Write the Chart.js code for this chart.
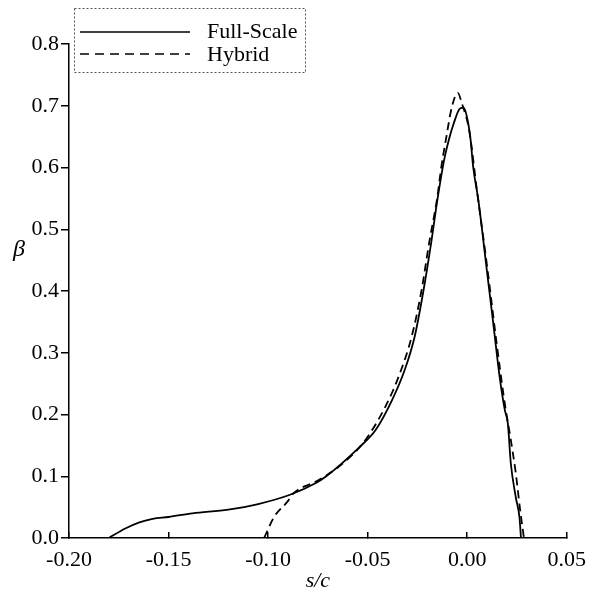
<!DOCTYPE html>
<html>
<head>
<meta charset="utf-8">
<script src="https://cdn.jsdelivr.net/npm/chart.js@4/dist/chart.umd.min.js"></script>
<style>
  html, body { margin: 0; padding: 0; background: #fff; }
  #wrap { width: 601px; height: 594px; }
</style>
</head>
<body>
<div id="wrap"><canvas id="beta-chart" width="601" height="594"></canvas></div>
<script>
// values
var fullX = [-0.180, -0.172, -0.165, -0.158, -0.150, -0.138, -0.120, -0.105, -0.089, -0.076, -0.0708,
  -0.0545, -0.046, -0.0378, -0.0314, -0.0264, -0.022, -0.018, -0.015, -0.0116, -0.0092, -0.0067,
  -0.0038, -0.0018, 0.0000, 0.0017, 0.0030, 0.0056, 0.010, 0.013, 0.0165, 0.0189, 0.0204, 0.0219,
  0.0244, 0.0263, 0.0270];
var fullY = [0.000, 0.015, 0.025, 0.031, 0.034, 0.040, 0.046, 0.055, 0.070, 0.089, 0.100,
  0.146, 0.175, 0.223, 0.272, 0.326, 0.400, 0.480, 0.547, 0.612, 0.645, 0.672,
  0.695, 0.697, 0.680, 0.645, 0.601, 0.547, 0.430, 0.350, 0.256, 0.207, 0.186, 0.121,
  0.066, 0.032, 0.000];

var hybX = [-0.102, -0.097, -0.0905, -0.087, -0.075, -0.0624, -0.052, -0.0412, -0.034, -0.0279,
  -0.023, -0.019, -0.015, -0.013, -0.0107, -0.0077, -0.0047, -0.0027, 0.001, 0.005, 0.010,
  0.015, 0.019, 0.0219, 0.0244, 0.0268, 0.0285];
var hybY = [0.000, 0.034, 0.058, 0.073, 0.093, 0.121, 0.155, 0.212, 0.265, 0.326,
  0.400, 0.480, 0.552, 0.601, 0.645, 0.698, 0.721, 0.704, 0.660, 0.560, 0.440,
  0.310, 0.215, 0.159, 0.105, 0.040, 0.000];

var seriesNames = ['Full-Scale', 'Hybrid'];
var xTicks = [-0.20, -0.15, -0.10, -0.05, 0.00, 0.05];
var yTicks = [0.0, 0.1, 0.2, 0.3, 0.4, 0.5, 0.6, 0.7, 0.8];

var serif = "'Liberation Serif', 'DejaVu Serif', serif";

function toPoints(xs, ys) {
  return xs.map(function (x, i) { return { x: x, y: ys[i] }; });
}

// legend box and beta label drawn on top
var extras = {
  id: 'extras',
  afterDraw: function (chart) {
    var ctx = chart.ctx;
    ctx.save();
    // legend frame
    ctx.strokeStyle = '#555';
    ctx.lineWidth = 1;
    ctx.setLineDash([2, 2]);
    ctx.strokeRect(74.5, 8.5, 231, 64);
    // legend lines
    ctx.strokeStyle = '#000';
    ctx.lineWidth = 1.6;
    ctx.setLineDash([]);
    ctx.beginPath(); ctx.moveTo(80, 32); ctx.lineTo(190, 32); ctx.stroke();
    ctx.setLineDash([9, 6]);
    ctx.beginPath(); ctx.moveTo(80, 54); ctx.lineTo(190, 54); ctx.stroke();
    ctx.setLineDash([]);
    ctx.fillStyle = '#000';
    ctx.font = '22px ' + serif;
    ctx.textBaseline = 'middle';
    ctx.fillText(seriesNames[0], 207, 32);
    ctx.fillText(seriesNames[1], 207, 55);
    // y title
    ctx.font = 'italic 24px ' + serif;
    ctx.textAlign = 'center';
    ctx.fillText('\u03b2', 19, 250);
    ctx.restore();
  }
};

new Chart('beta-chart', {
  type: 'line',
  data: {
    datasets: [{
      label: seriesNames[0],
      data: toPoints(fullX, fullY),
      borderColor: '#000',
      borderWidth: 1.8,
      pointRadius: 0,
      cubicInterpolationMode: 'monotone',
    }, {
      label: seriesNames[1],
      data: toPoints(hybX, hybY),
      borderColor: '#000',
      borderWidth: 1.8,
      borderDash: [8, 5],
      pointRadius: 0,
      cubicInterpolationMode: 'monotone',
    }],
  },
  options: {
    responsive: false,
    animation: false,
    layout: { padding: { top: 44, right: 26, left: 0, bottom: 0 } },
    plugins: { legend: { display: false }, tooltip: { enabled: false } },
    scales: {
      x: {
        type: 'linear',
        min: -0.2,
        max: 0.05,
        afterBuildTicks: function (scale) {
          scale.ticks = xTicks.map(function (v) { return { value: v }; });
        },
        afterFit: function (scale) { scale.height = 56; },
        ticks: {
          color: '#000',
          font: { family: serif, size: 22 },
          padding: 15,
          maxRotation: 0,
          autoSkip: false,
          callback: function (v) { return Number(v).toFixed(2); },
        },
        grid: { drawOnChartArea: false, tickLength: -6, color: '#000', lineWidth: 1.5 },
        border: { color: '#000', width: 1.5 },
        title: {
          display: true,
          text: 's/c',
          color: '#000',
          font: { family: serif, size: 22, style: 'italic' },
          padding: 0,
        },
      },
      y: {
        type: 'linear',
        min: 0,
        max: 0.8,
        afterBuildTicks: function (scale) {
          scale.ticks = yTicks.map(function (v) { return { value: v }; });
        },
        afterFit: function (scale) { scale.width = 69; },
        ticks: {
          color: '#000',
          font: { family: serif, size: 22 },
          padding: 2,
          autoSkip: false,
          callback: function (v) { return Number(v).toFixed(1); },
        },
        grid: { drawOnChartArea: false, tickLength: 8, color: '#000', lineWidth: 1.5 },
        border: { color: '#000', width: 1.5 },
      },
    },
  },
  plugins: [extras],
});
</script>
</body>
</html>
